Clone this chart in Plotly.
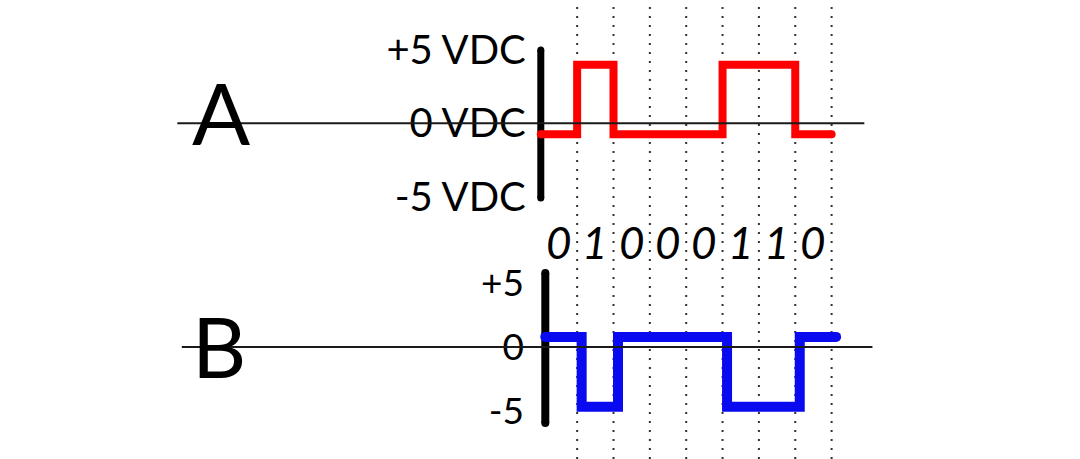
import plotly.graph_objects as go

# ---- data ----
bits = [0, 1, 0, 0, 0, 1, 1, 0]                 # bit sequence shown under panel A
a_levels = [-0.75, 4.0, -0.75, -0.75, -0.75, 4.0, 4.0, -0.75]   # drawn level of signal A per bit (V)
b_levels = [0.8, -4.7, 0.8, 0.8, 0.8, -4.7, -4.7, 0.8]          # drawn level of signal B per bit
a_ticks = [5, 0, -5]
a_ticktext = ["+5 VDC", "0 VDC", "-5 VDC"]
b_ticks = [5, 0, -5]
b_ticktext = ["+5", "0", "-5"]
panel_names = ["A", "B"]

FONT = "Lato"
W, H = 1080, 459

n = len(bits)
xs = list(range(n + 1))
a_y = a_levels + [a_levels[-1]]
b_y = b_levels + [b_levels[-1]]

# axes geometry
cell_px = 36.35
x0_px = 540.8
xr = [-x0_px / cell_px, (W - x0_px) / cell_px]
b_shift = 4.5 / cell_px
xr2 = [xr[0] - b_shift, xr[1] - b_shift]
ya_range = [-5.1, 5.0]
yb_range = [-5.98, 5.83]

fig = go.Figure()

def cap_sizes(k, s):
    return [s] + [0] * (k - 2) + [s]

# vertical axis bars
fig.add_trace(go.Scatter(x=[0, 0], y=ya_range, mode="lines+markers",
                         line=dict(color="black", width=7),
                         marker=dict(size=7, color="black", line=dict(width=0), opacity=1),
                         xaxis="x", yaxis="y", cliponaxis=False, hoverinfo="skip"))
fig.add_trace(go.Scatter(x=[0, 0], y=yb_range, mode="lines+markers",
                         line=dict(color="black", width=8),
                         marker=dict(size=8, color="black", line=dict(width=0), opacity=1),
                         xaxis="x2", yaxis="y2", cliponaxis=False, hoverinfo="skip"))

# signals
fig.add_trace(go.Scatter(x=xs, y=a_y, mode="lines+markers", line_shape="hv",
                         line=dict(color="#ff0000", width=8),
                         marker=dict(size=cap_sizes(len(xs), 8), color="#ff0000",
                                     line=dict(width=0), opacity=1),
                         xaxis="x", yaxis="y", cliponaxis=False, hoverinfo="skip"))
fig.add_trace(go.Scatter(x=xs, y=b_y, mode="lines+markers", line_shape="hv",
                         line=dict(color="#0a0af0", width=10),
                         marker=dict(size=cap_sizes(len(xs), 10), color="#0a0af0",
                                     line=dict(width=0), opacity=1),
                         xaxis="x2", yaxis="y2", cliponaxis=False, hoverinfo="skip"))

shapes = []
# dotted bit boundaries
for i in range(1, n + 1):
    shapes.append(dict(type="line", xref="x", yref="paper", x0=i, x1=i, y0=0, y1=1,
                       line=dict(color="#333333", width=2, dash="2px,7px"), layer="below"))
# horizontal zero lines
shapes.append(dict(type="line", xref="x", yref="y", x0=-10.0, x1=8.9, y0=0, y1=0,
                   line=dict(color="#1a1a1a", width=2), layer="above"))
shapes.append(dict(type="line", xref="x2", yref="y2", x0=-10.0, x1=9.0, y0=0, y1=0,
                   line=dict(color="#1a1a1a", width=2), layer="above"))

annotations = []
for i, b in enumerate(bits):
    annotations.append(dict(x=i + 0.5, y=(H - 242) / H, xref="x", yref="paper",
                            text=str(b), showarrow=False, xanchor="center", yanchor="middle",
                            font=dict(family=FONT, size=44, color="black", style="italic")))
annotations.append(dict(x=221 / W, y=(H - 111) / H, xref="paper", yref="paper",
                        text=panel_names[0], showarrow=False, xanchor="center", yanchor="middle",
                        font=dict(family=FONT, size=86, color="black")))
annotations.append(dict(x=219 / W, y=(H - 345) / H, xref="paper", yref="paper",
                        text=panel_names[1], showarrow=False, xanchor="center", yanchor="middle",
                        font=dict(family=FONT, size=84, color="black")))

fig.update_layout(
    width=W, height=H, margin=dict(l=0, r=0, t=0, b=0, autoexpand=False),
    paper_bgcolor="white", plot_bgcolor="white", showlegend=False,
    xaxis=dict(range=xr, domain=[0, 1], visible=False, anchor="y", automargin=False),
    xaxis2=dict(range=xr2, domain=[0, 1], visible=False, anchor="y2", automargin=False),
    yaxis=dict(range=ya_range, domain=[(H - 198) / H, (H - 50) / H],
               anchor="free", position=x0_px / W, showgrid=False, zeroline=False,
               showline=False, ticks="", tickvals=a_ticks, ticktext=a_ticktext,
               ticklabelstandoff=15, automargin=False,
               tickfont=dict(family=FONT, size=40, color="black")),
    yaxis2=dict(range=yb_range, domain=[(H - 423) / H, (H - 273) / H],
                anchor="free", position=544 / W, showgrid=False, zeroline=False,
                showline=False, ticks="", tickvals=b_ticks, ticktext=b_ticktext,
                ticklabelstandoff=20, automargin=False,
                tickfont=dict(family=FONT, size=37, color="black")),
    shapes=shapes, annotations=annotations,
)

fig.write_html("out.html", config={"displayModeBar": False},
               post_script="document.body.style.margin='0';document.body.style.overflow='hidden';")
